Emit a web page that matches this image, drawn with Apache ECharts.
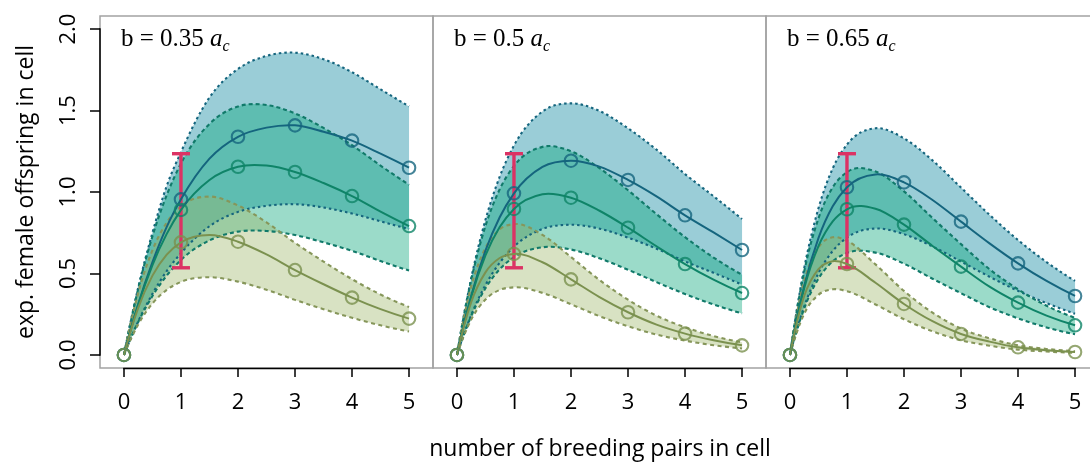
<!DOCTYPE html>
<html>
<head>
<meta charset="utf-8">
<script src="https://cdn.jsdelivr.net/npm/echarts@6/dist/echarts.min.js"></script>
<style>
  html, body { margin: 0; padding: 0; background: #fff; }
  #chart { width: 1090px; height: 464px; }
</style>
</head>
<body>
<div id="chart"></div>
<script>
// sample positions along the breeding-pair axis
const xs = [0, 0.25, 0.5, 0.75, 1, 1.5, 2, 2.5, 3, 3.5, 4, 4.5, 5];
const xTicks = [0, 1, 2, 3, 4, 5];
const yTicks = [0, 0.5, 1, 1.5, 2];
const panelB = ['0.35', '0.5', '0.65'];

// b = 0.35 a_c
const blueMid1  = [0, 0.313, 0.57, 0.786, 0.955, 1.205, 1.339, 1.395, 1.409, 1.37, 1.315, 1.235, 1.149];
const blueHi1   = [0, 0.413, 0.75, 1.037, 1.245, 1.58, 1.755, 1.835, 1.855, 1.815, 1.735, 1.63, 1.525];
const blueLo1   = [0, 0.205, 0.375, 0.515, 0.625, 0.79, 0.878, 0.915, 0.925, 0.905, 0.868, 0.82, 0.772];
const greenMid1 = [0, 0.308, 0.552, 0.743, 0.89, 1.074, 1.155, 1.162, 1.123, 1.055, 0.975, 0.88, 0.791];
const greenHi1  = [0, 0.407, 0.729, 0.981, 1.175, 1.418, 1.525, 1.534, 1.482, 1.393, 1.287, 1.162, 1.044];
const greenLo1  = [0, 0.202, 0.362, 0.487, 0.583, 0.703, 0.757, 0.761, 0.736, 0.691, 0.639, 0.576, 0.518];
const oliveMid1 = [0, 0.289, 0.487, 0.616, 0.691, 0.736, 0.695, 0.617, 0.521, 0.434, 0.352, 0.281, 0.223];
const oliveHi1  = [0, 0.381, 0.643, 0.813, 0.912, 0.972, 0.917, 0.814, 0.688, 0.573, 0.465, 0.371, 0.294];
const oliveLo1  = [0, 0.187, 0.316, 0.399, 0.448, 0.477, 0.45, 0.40, 0.338, 0.281, 0.228, 0.182, 0.144];

// b = 0.5 a_c
const blueMid2  = [0, 0.364, 0.64, 0.845, 0.992, 1.154, 1.192, 1.156, 1.074, 0.973, 0.857, 0.752, 0.644];
const blueHi2   = [0, 0.471, 0.829, 1.094, 1.285, 1.494, 1.544, 1.497, 1.391, 1.26, 1.11, 0.974, 0.834];
const blueLo2   = [0, 0.244, 0.429, 0.566, 0.665, 0.773, 0.799, 0.775, 0.72, 0.652, 0.574, 0.504, 0.432];
const greenMid2 = [0, 0.356, 0.611, 0.785, 0.896, 0.986, 0.965, 0.885, 0.781, 0.667, 0.558, 0.462, 0.38];
const greenHi2  = [0, 0.461, 0.791, 1.017, 1.16, 1.277, 1.25, 1.146, 1.011, 0.864, 0.723, 0.598, 0.492];
const greenLo2  = [0, 0.239, 0.409, 0.526, 0.60, 0.661, 0.647, 0.593, 0.523, 0.447, 0.374, 0.31, 0.255];
const oliveMid2 = [0, 0.324, 0.507, 0.595, 0.62, 0.569, 0.464, 0.355, 0.262, 0.186, 0.131, 0.09, 0.059];
const oliveHi2  = [0, 0.42, 0.657, 0.771, 0.803, 0.737, 0.601, 0.46, 0.339, 0.241, 0.17, 0.116, 0.078];
const oliveLo2  = [0, 0.217, 0.34, 0.399, 0.415, 0.381, 0.311, 0.238, 0.176, 0.125, 0.088, 0.06, 0.04];

// b = 0.65 a_c
const blueMid3  = [0, 0.424, 0.717, 0.912, 1.029, 1.108, 1.059, 0.951, 0.818, 0.685, 0.562, 0.454, 0.362];
const blueHi3   = [0, 0.532, 0.90, 1.145, 1.291, 1.391, 1.329, 1.194, 1.027, 0.86, 0.705, 0.57, 0.454];
const blueLo3   = [0, 0.297, 0.502, 0.638, 0.72, 0.776, 0.741, 0.666, 0.573, 0.48, 0.393, 0.318, 0.253];
const greenMid3 = [0, 0.409, 0.668, 0.82, 0.894, 0.897, 0.80, 0.669, 0.542, 0.419, 0.321, 0.241, 0.182];
const greenHi3  = [0, 0.513, 0.838, 1.029, 1.122, 1.126, 1.004, 0.84, 0.68, 0.526, 0.403, 0.302, 0.228];
const greenLo3  = [0, 0.286, 0.468, 0.574, 0.626, 0.628, 0.56, 0.468, 0.379, 0.293, 0.225, 0.169, 0.127];
const oliveMid3 = [0, 0.362, 0.527, 0.575, 0.558, 0.443, 0.313, 0.207, 0.129, 0.082, 0.047, 0.029, 0.018];
const oliveHi3  = [0, 0.454, 0.661, 0.722, 0.70, 0.556, 0.393, 0.26, 0.162, 0.102, 0.059, 0.037, 0.023];
const oliveLo3  = [0, 0.253, 0.369, 0.403, 0.391, 0.31, 0.219, 0.145, 0.09, 0.057, 0.033, 0.021, 0.013];

// observed range at one breeding pair
const obsX = 1;
const obsLow = 0.535;
const obsHigh = 1.235;

const panels = [
  { blue: [blueMid1, blueLo1, blueHi1], green: [greenMid1, greenLo1, greenHi1], olive: [oliveMid1, oliveLo1, oliveHi1] },
  { blue: [blueMid2, blueLo2, blueHi2], green: [greenMid2, greenLo2, greenHi2], olive: [oliveMid2, oliveLo2, oliveHi2] },
  { blue: [blueMid3, blueLo3, blueHi3], green: [greenMid3, greenLo3, greenHi3], olive: [oliveMid3, oliveLo3, oliveHi3] }
];

const groupOrder = ['blue', 'green', 'olive'];
const groupStyle = {
  blue:  { line: '#15657e', dash: '#15657e', fill: 'rgba(3,130,155,0.40)',   pattern: [2.5, 3] },
  green: { line: '#0f8468', dash: '#117a6a', fill: 'rgba(5,165,120,0.40)',   pattern: [4, 3] },
  olive: { line: '#7b914f', dash: '#86965a', fill: 'rgba(158,183,105,0.40)', pattern: [4, 3.5] }
};
const redColor = '#dc3264';
const X_MIN = -0.42, X_MAX = 5.42, Y_MIN = -0.08, Y_MAX = 2.08;
const gridLefts = [100, 433, 766];
const sansFont = 'Open Sans';
const serifFont = 'Liberation Serif';

// cubic Hermite path through screen points (x strictly monotone)
function hermite(pts) {
  const n = pts.length, h = [], d = [], m = [];
  for (let i = 0; i < n - 1; i++) {
    h[i] = pts[i + 1][0] - pts[i][0];
    d[i] = (pts[i + 1][1] - pts[i][1]) / h[i];
  }
  m[0] = ((2 * h[0] + h[1]) * d[0] - h[0] * d[1]) / (h[0] + h[1]);
  for (let i = 1; i < n - 1; i++) m[i] = (d[i - 1] * h[i] + d[i] * h[i - 1]) / (h[i - 1] + h[i]);
  m[n - 1] = ((2 * h[n - 2] + h[n - 3]) * d[n - 2] - h[n - 2] * d[n - 3]) / (h[n - 2] + h[n - 3]);
  let s = '';
  for (let i = 0; i < n - 1; i++) {
    const [x0, y0] = pts[i], [x1, y1] = pts[i + 1];
    s += ' C' + (x0 + h[i] / 3) + ',' + (y0 + m[i] * h[i] / 3) + ' ' +
         (x1 - h[i] / 3) + ',' + (y1 - m[i + 1] * h[i] / 3) + ' ' + x1 + ',' + y1;
  }
  return s;
}
function curvePath(api, ys) {
  const pts = xs.map((x, i) => api.coord([x, ys[i]]));
  return 'M' + pts[0][0] + ',' + pts[0][1] + hermite(pts);
}

const grids = [], xAxes = [], yAxes = [], series = [], titles = [];

gridLefts.forEach((left, p) => {
  grids.push({
    left: left, top: 16, width: 333, height: 352,
    show: true, borderColor: '#a3a3a3', borderWidth: 1.5, backgroundColor: 'transparent',
    containLabel: false, outerBoundsMode: 'none'
  });
  xAxes.push({
    type: 'value', gridIndex: p, min: X_MIN, max: X_MAX, position: 'bottom',
    axisLine: { show: false, onZero: false }, splitLine: { show: false },
    axisTick: { show: true, inside: false, customValues: xTicks, length: 9, lineStyle: { color: '#000', width: 1.5 } },
    axisLabel: { customValues: xTicks, margin: 24, fontFamily: sansFont, fontSize: 22, color: '#000' }
  });
  yAxes.push(p === 0 ? {
    type: 'value', gridIndex: p, min: Y_MIN, max: Y_MAX, position: 'left',
    axisLine: { show: false, onZero: false }, splitLine: { show: false },
    axisTick: { show: true, inside: false, customValues: yTicks, length: 10, lineStyle: { color: '#000', width: 1.5 } },
    axisLabel: { customValues: yTicks, rotate: 90, margin: 20, fontFamily: sansFont, fontSize: 22, color: '#000',
                 formatter: v => v.toFixed(1) }
  } : {
    type: 'value', gridIndex: p, min: Y_MIN, max: Y_MAX, show: false,
    axisLine: { onZero: false }, splitLine: { show: false }
  });
  titles.push({
    text: '{n|b = ' + panelB[p] + ' }{i|a}{s|c}',
    left: left + 21, top: 23, padding: 0,
    textStyle: {
      fontWeight: 'normal',
      rich: {
        n: { fontFamily: serifFont, fontSize: 25, fontWeight: 'normal', color: '#000', lineHeight: 32 },
        i: { fontFamily: serifFont, fontSize: 25, fontWeight: 'normal', fontStyle: 'italic', color: '#000', lineHeight: 32 },
        s: { fontFamily: serifFont, fontSize: 16, fontWeight: 'normal', fontStyle: 'italic', color: '#000', lineHeight: 17, verticalAlign: 'bottom' }
      }
    }
  });

  const panel = panels[p];
  // shaded intervals
  groupOrder.forEach(g => {
    const [mid, lo, hi] = panel[g];
    series.push({
      type: 'custom', coordinateSystem: 'cartesian2d', xAxisIndex: p, yAxisIndex: p, silent: true,
      data: xs.map((x, i) => [x, lo[i], hi[i]]),
      encode: { x: 0, y: [1, 2] },
      renderItem: (params, api) => {
        if (params.dataIndex !== 0) return null;
        const up = xs.map((x, i) => api.coord([x, hi[i]]));
        const dn = xs.map((x, i) => api.coord([x, lo[i]])).reverse();
        const path = 'M' + up[0][0] + ',' + up[0][1] + hermite(up) +
                     ' L' + dn[0][0] + ',' + dn[0][1] + hermite(dn) + ' Z';
        return { type: 'path', shape: { pathData: path }, style: { fill: groupStyle[g].fill, stroke: 'none' } };
      }
    });
  });
  // dashed interval limits
  groupOrder.forEach(g => {
    const [mid, lo, hi] = panel[g];
    series.push({
      type: 'custom', coordinateSystem: 'cartesian2d', xAxisIndex: p, yAxisIndex: p, silent: true,
      data: xs.map((x, i) => [x, lo[i], hi[i]]),
      encode: { x: 0, y: [1, 2] },
      renderItem: (params, api) => {
        if (params.dataIndex !== 0) return null;
        const st = { fill: 'none', stroke: groupStyle[g].dash, lineWidth: 2.1, lineDash: groupStyle[g].pattern };
        return { type: 'group', children: [
          { type: 'path', shape: { pathData: curvePath(api, hi) }, style: st },
          { type: 'path', shape: { pathData: curvePath(api, lo) }, style: st }
        ] };
      }
    });
  });
  // observed range bar
  series.push({
    type: 'custom', coordinateSystem: 'cartesian2d', xAxisIndex: p, yAxisIndex: p, silent: true,
    data: [[obsX, obsLow, obsHigh]],
    encode: { x: 0, y: [1, 2] },
    renderItem: (params, api) => {
      const a = api.coord([api.value(0), api.value(1)]);
      const b = api.coord([api.value(0), api.value(2)]);
      const st = { stroke: redColor, lineWidth: 3.4, lineCap: 'butt' };
      return { type: 'group', children: [
        { type: 'line', shape: { x1: a[0], y1: a[1], x2: b[0], y2: b[1] }, style: st },
        { type: 'line', shape: { x1: a[0] - 9, y1: a[1], x2: a[0] + 9, y2: a[1] }, style: st },
        { type: 'line', shape: { x1: b[0] - 9, y1: b[1], x2: b[0] + 9, y2: b[1] }, style: st }
      ] };
    }
  });
  // mean curves and markers
  groupOrder.forEach(g => {
    const mid = panel[g][0];
    series.push({
      type: 'custom', coordinateSystem: 'cartesian2d', xAxisIndex: p, yAxisIndex: p, silent: true,
      data: xs.map((x, i) => [x, mid[i]]),
      encode: { x: 0, y: 1 },
      renderItem: (params, api) => {
        if (params.dataIndex !== 0) return null;
        return { type: 'path', shape: { pathData: curvePath(api, mid) },
                 style: { fill: 'none', stroke: groupStyle[g].line, lineWidth: 2 } };
      }
    });
    series.push({
      type: 'scatter', xAxisIndex: p, yAxisIndex: p, silent: true,
      data: xs.map((x, i) => [x, mid[i]]).filter(d => Number.isInteger(d[0])),
      symbol: 'circle', symbolSize: 12.5,
      itemStyle: { color: 'rgba(0,0,0,0)', borderColor: groupStyle[g].line, borderWidth: 2.1 }
    });
  });
  // axis lines spanning the tick range
  series.push({
    type: 'custom', coordinateSystem: 'cartesian2d', xAxisIndex: p, yAxisIndex: p, silent: true, clip: false,
    data: [[0, 0]],
    renderItem: (params, api) => {
      const st = { stroke: '#000', lineWidth: 1.5 };
      const a = api.coord([xTicks[0], Y_MIN]), b = api.coord([xTicks[xTicks.length - 1], Y_MIN]);
      const kids = [{ type: 'line', shape: { x1: a[0] - 0.75, y1: a[1] + 0.5, x2: b[0] + 0.75, y2: b[1] + 0.5 }, style: st }];
      if (p === 0) {
        const c = api.coord([X_MIN, yTicks[0]]), d = api.coord([X_MIN, yTicks[yTicks.length - 1]]);
        kids.push({ type: 'line', shape: { x1: c[0], y1: c[1] + 0.75, x2: d[0], y2: d[1] - 0.75 }, style: st });
      }
      return { type: 'group', children: kids };
    }
  });
});

const chart = echarts.init(document.getElementById('chart'), null, { renderer: 'canvas' });
chart.setOption({
  animation: false,
  backgroundColor: '#fff',
  title: titles,
  grid: grids,
  xAxis: xAxes,
  yAxis: yAxes,
  series: series,
  graphic: [
    { type: 'text', x: 600, y: 449,
      style: { text: 'number of breeding pairs in cell', fontFamily: sansFont, fontSize: 23, fill: '#000',
               align: 'center', verticalAlign: 'middle' } },
    { type: 'text', x: 26, y: 192, rotation: Math.PI / 2,
      style: { text: 'exp. female offspring in cell', fontFamily: sansFont, fontSize: 23, fill: '#000',
               align: 'center', verticalAlign: 'middle' } }
  ]
});
</script>
</body>
</html>
